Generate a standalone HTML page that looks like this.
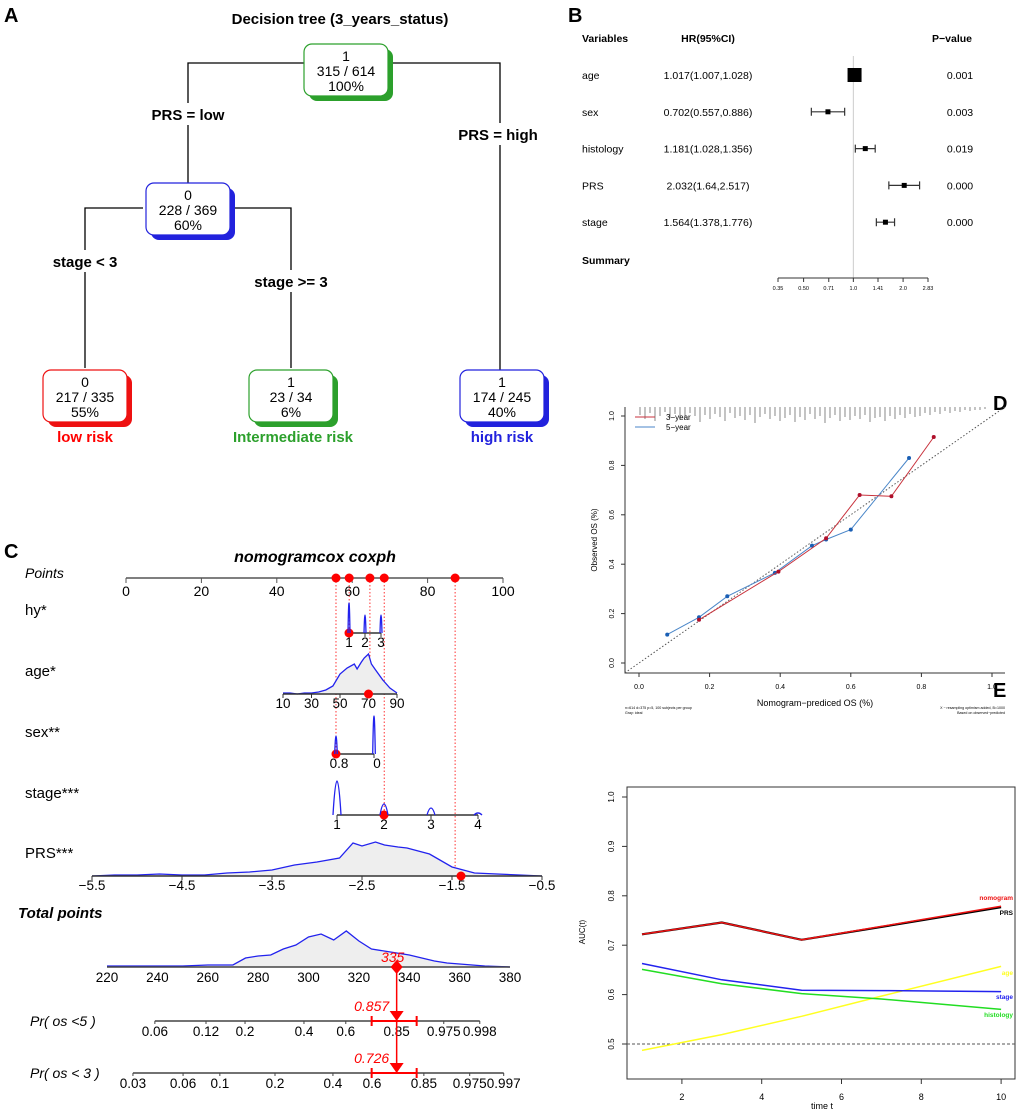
<!DOCTYPE html>
<html><head><meta charset="utf-8"><style>
body{margin:0;background:#fff}
svg{display:block;font-family:"Liberation Sans",Arial,sans-serif}
</style></head><body>
<svg id="fig" width="1020" height="1117" viewBox="0 0 1020 1117" xmlns="http://www.w3.org/2000/svg">
<g id="panelA">
<text x="4" y="22" font-size="20" font-weight="bold">A</text>
<text x="340" y="24" font-size="15" font-weight="bold" text-anchor="middle">Decision tree (3_years_status)</text>
<g stroke="#000" stroke-width="1.3" fill="none">
<path d="M188 188 V63 H305 M388 63 H500 V370"/>
<path d="M85 368 V208 H143 M232 208 H291 V368"/>
</g>
<g font-size="15" font-weight="bold" text-anchor="middle">
<rect x="140" y="103" width="98" height="22" fill="#fff"/>
<text x="188" y="120">PRS = low</text>
<rect x="445" y="123" width="108" height="22" fill="#fff"/>
<text x="498" y="140">PRS = high</text>
<rect x="36" y="250" width="98" height="22" fill="#fff"/>
<text x="85" y="267">stage &lt; 3</text>
<rect x="228" y="270" width="126" height="22" fill="#fff"/>
<text x="291" y="287">stage &gt;= 3</text>
</g>
<g id="nodes"></g>
<g font-size="15" font-weight="bold" text-anchor="middle">
<text x="85" y="442" fill="#f00">low risk</text>
<text x="293" y="442" fill="#2ca02c">Intermediate risk</text>
<text x="502" y="442" fill="#22d">high risk</text>
</g>
</g>
<g id="panelB">
<text x="568" y="22" font-size="20" font-weight="bold">B</text>
<g font-size="10.5" font-weight="bold">
<text x="582" y="42">Variables</text>
<text x="708" y="42" text-anchor="middle">HR(95%CI)</text>
<text x="952" y="42" text-anchor="middle">P−value</text>
<text x="582" y="264">Summary</text>
</g>
<g id="forest"></g>
</g>
<g id="panelC">
<text x="4" y="558" font-size="20" font-weight="bold">C</text>
<text x="315" y="562" font-size="16" font-weight="bold" font-style="italic" text-anchor="middle">nomogramcox coxph</text>
<g id="nomo"></g>
</g>
<g id="panelD">
<text x="993" y="410" font-size="20" font-weight="bold">D</text>
<g id="calib"></g>
</g>
<g id="panelE">
<text x="993" y="697" font-size="20" font-weight="bold">E</text>
<g id="auc"></g>
</g>
</svg>
<script>
const NS="http://www.w3.org/2000/svg";
function mk(parent,tag,attrs,txt){const e=document.createElementNS(NS,tag);for(const k in attrs)e.setAttribute(k,attrs[k]);if(txt!==undefined)e.textContent=txt;parent.appendChild(e);return e;}
function pathOf(pts){return pts.map((p,i)=>(i?"L":"M")+p[0].toFixed(1)+" "+p[1].toFixed(1)).join(" ");}

/* ---------- Panel A nodes ---------- */
const nodeClass=["1","0","0","1","1"];
const nodeCounts=["315 / 614","228 / 369","217 / 335","23 / 34","174 / 245"];
const nodePct=["100%","60%","55%","6%","40%"];
const nodeColor=["#2ca02c","#2222dd","#ee1111","#2ca02c","#2222dd"];
const nodeCx=[346,188,85,291,502],nodeCy=[70,209,396,396,396];
const nodesG=document.getElementById('nodes');
for(let i=0;i<nodeClass.length;i++){
  const g=mk(nodesG,'g',{});
  
  
  const x=nodeCx[i]-42,y=nodeCy[i]-26;
  mk(g,'rect',{x:x+5,y:y+5,width:84,height:52,rx:8,fill:nodeColor[i]});
  mk(g,'rect',{x:x,y:y,width:84,height:52,rx:8,fill:'#fff',stroke:nodeColor[i],'stroke-width':1.2});
  mk(g,'text',{x:nodeCx[i],y:nodeCy[i]-9,'font-size':14,'text-anchor':'middle'},nodeClass[i]);
  mk(g,'text',{x:nodeCx[i],y:nodeCy[i]+6,'font-size':14,'text-anchor':'middle'},nodeCounts[i]);
  mk(g,'text',{x:nodeCx[i],y:nodeCy[i]+21,'font-size':14,'text-anchor':'middle'},nodePct[i]);
}

/* ---------- Panel B forest ---------- */
const fVars=["age","sex","histology","PRS","stage"];
const fHRtext=["1.017(1.007,1.028)","0.702(0.557,0.886)","1.181(1.028,1.356)","2.032(1.64,2.517)","1.564(1.378,1.776)"];
const fHR=[1.017,0.702,1.181,2.032,1.564];
const fLo=[1.007,0.557,1.028,1.64,1.378];
const fHi=[1.028,0.886,1.356,2.517,1.776];
const fP=["0.001","0.003","0.019","0.000","0.000"];
const fBox=[14,5,5,5,5];
const fTicks=[0.35,0.50,0.71,1.0,1.41,2.0,2.83];
const fTickLbl=["0.35","0.50","0.71","1.0","1.41","2.0","2.83"];
const fx=v=>778+(Math.log(v)-Math.log(0.35))/(Math.log(2.83)-Math.log(0.35))*150;
const fg=document.getElementById('forest');
let fl=mk(fg,'line',{x1:fx(1),x2:fx(1),y1:56,y2:278,stroke:'#ccc','stroke-width':1});

for(let i=0;i<fVars.length;i++){
  const y=75+i*36.8;
  const g=mk(fg,'g',{});
  
  
  mk(g,'text',{x:582,y:y+4,'font-size':10.5},fVars[i]);
  mk(g,'text',{x:708,y:y+4,'font-size':10.5,'text-anchor':'middle'},fHRtext[i]);
  mk(g,'text',{x:960,y:y+4,'font-size':10.5,'text-anchor':'middle'},fP[i]);
  mk(g,'path',{d:`M${fx(fLo[i])} ${y-4}V${y+4}M${fx(fLo[i])} ${y}H${fx(fHi[i])}M${fx(fHi[i])} ${y-4}V${y+4}`,stroke:'#333','stroke-width':1.2,fill:'none'});
  mk(g,'rect',{x:fx(fHR[i])-fBox[i]/2,y:y-fBox[i]/2,width:fBox[i],height:fBox[i],fill:'#000'});
}
const fa=mk(fg,'g',{});

mk(fa,'line',{x1:fx(0.35),x2:fx(2.83),y1:278,y2:278,stroke:'#333'});
fTicks.forEach((t,i)=>{mk(fa,'line',{x1:fx(t),x2:fx(t),y1:278,y2:282,stroke:'#333'});mk(fa,'text',{x:fx(t),y:290,'font-size':5.5,'text-anchor':'middle'},fTickLbl[i]);});

/* ---------- Panel C nomogram ---------- */
const ng=document.getElementById('nomo');
const ptsTicks=[0,20,40,60,80,100];
const px=p=>126+p*3.77;
let g0=mk(ng,'g',{});
mk(g0,'text',{x:25,y:578,'font-size':14,'font-style':'italic'},'Points');
mk(g0,'line',{x1:px(0),x2:px(100),y1:578,y2:578,stroke:'#555','stroke-width':1.5});
ptsTicks.forEach(t=>{mk(g0,'line',{x1:px(t),x2:px(t),y1:578,y2:583,stroke:'#555'});mk(g0,'text',{x:px(t),y:596,'font-size':14,'text-anchor':'middle'},String(t));});
const selPoints=[55.7,59.2,64.7,68.5,87.3];
const selEnd=[754,633,694,815,876];
selPoints.forEach((p,i)=>{const l=mk(ng,'line',{x1:px(p),x2:px(p),y1:578,y2:selEnd[i],stroke:'#f33','stroke-dasharray':'1.5,2','stroke-width':1});
 const c=mk(ng,'circle',{cx:px(p),cy:578,r:4.5,fill:'#f00'});});

function row(name,label,ly,ay,x0,x1,v0,v1,ticks,tickLbl,dens,densX,sel,lblXoff){
  const g=mk(ng,'g',{});
  
  
  const sx=v=>x0+(v-v0)/(v1-v0)*(x1-x0);
  mk(g,'text',{x:25,y:ly,'font-size':15},label);
  if(densX){const pts=densX.map((v,i)=>[sx(v),ay-dens[i]]);
    mk(g,'path',{d:pathOf(pts)+`L${sx(densX[densX.length-1])} ${ay}L${sx(densX[0])} ${ay}Z`,fill:'#eee',stroke:'none'});
    mk(g,'path',{d:pathOf(pts),fill:'none',stroke:'#22e','stroke-width':1.3});}
  mk(g,'line',{x1:x0,x2:x1,y1:ay,y2:ay,stroke:'#333','stroke-width':1.5});
  ticks.forEach((t,i)=>{mk(g,'line',{x1:sx(t),x2:sx(t),y1:ay,y2:ay+4,stroke:'#333'});mk(g,'text',{x:sx(t)+(lblXoff||0),y:ay+14,'font-size':13.5,'text-anchor':'middle'},tickLbl[i]);});
  if(sel!==null){const c=mk(g,'circle',{cx:sx(sel),cy:ay,r:4.5,fill:'#f00'});}
  return {g,sx};
}
function spikes(r,pos,h,ay,w){pos.forEach((p,i)=>{const x=r.sx(p);mk(r.g,'path',{d:`M${x-w} ${ay}Q${x} ${ay-2*h[i]} ${x+w} ${ay}`,fill:'none',stroke:'#22e','stroke-width':1.3});});}
const hyTicks=[1,2,3],hySpikeH=[30,18,18];
let r=row('hy','hy*',615,633,349,381,1,3,hyTicks,["1","2","3"],null,null,1);
spikes(r,hyTicks,hySpikeH,633,1);
const ageX=[10,15,20,25,30,35,40,45,50,55,60,62,65,67,70,72,75,80,85,90];
const ageD=[1,1,0,1,1,2,4,8,20,26,30,25,32,36,40,30,24,14,6,1];
row('age','age*',676,694,283,397,10,90,[10,30,50,70,90],["10","30","50","70","90"],ageD,ageX,70);
const sexTicks=[0.8,0],sexSpikeH=[18,38];
r=row('sex','sex**',737,754,336,374,0.8,0,sexTicks,["0.8","0"],null,null,0.8,3);
spikes(r,sexTicks,sexSpikeH,754,1.3);
const stageTicks=[1,2,3,4],stageSpikeH=[34,11,7,2];
r=row('stage','stage***',798,815,337,478,1,4,stageTicks,["1","2","3","4"],null,null,2);
spikes(r,stageTicks,stageSpikeH,815,4);
const prsX=[-5.5,-5.25,-5,-4.75,-4.5,-4.25,-4,-3.75,-3.5,-3.25,-3,-2.75,-2.6,-2.5,-2.35,-2.25,-2.1,-2,-1.75,-1.5,-1.25,-1,-0.75,-0.5];
const prsD=[0,1,1,2,1,1,3,4,6,11,14,18,33,30,34,31,29,28,22,9,3,2,1,0];
row('prs','PRS***',858,876,92,542,-5.5,-0.5,[-5.5,-4.5,-3.5,-2.5,-1.5,-0.5],["−5.5","−4.5","−3.5","−2.5","−1.5","−0.5"],prsD,prsX,-1.4);

const totX=[220,230,240,250,260,270,275,280,285,290,295,300,305,310,315,320,325,330,335,340,345,350,355,360,365,370,380];
const totD=[1,1,1,1,2,2,9,11,12,18,22,30,33,27,36,26,18,16,14,12,9,6,4,3,2,1,0];
const totPts=335;
const tx=v=>107+(v-220)/160*403;
let tg=mk(ng,'g',{});
mk(tg,'text',{x:18,y:918,'font-size':15,'font-weight':'bold','font-style':'italic'},'Total points');
const tpts=totX.map((v,i)=>[tx(v),967-totD[i]]);
mk(tg,'path',{d:pathOf(tpts)+`L${tx(380)} 967L${tx(220)} 967Z`,fill:'#eee'});
mk(tg,'path',{d:pathOf(tpts),fill:'none',stroke:'#22e','stroke-width':1.3});
mk(tg,'line',{x1:tx(220),x2:tx(380),y1:967,y2:967,stroke:'#444','stroke-width':1.5});
[220,240,260,280,300,320,340,360,380].forEach(t=>mk(tg,'text',{x:tx(t),y:982,'font-size':13.5,'text-anchor':'middle'},String(t)));
const pr5Lbl=["0.06","0.12","0.2","0.4","0.6","0.85","0.975","0.998"];
const pr5Pts=[239,259.3,274.8,298.2,314.8,335,353.7,368];
const pr3Lbl=["0.03","0.06","0.1","0.2","0.4","0.6","0.85","0.975","0.997"];
const pr3Pts=[230.3,250.2,264.8,286.7,309.7,325.2,345.8,364,377.5];
function prAxis(name,label,y,lbl,pts,val){
  const g=mk(ng,'g',{});
  
  
  mk(g,'text',{x:30,y:y+5,'font-size':14,'font-style':'italic'},label);
  mk(g,'line',{x1:tx(pts[0]),x2:tx(pts[pts.length-1]),y1:y,y2:y,stroke:'#444','stroke-width':1.5});
  pts.forEach((p,i)=>{mk(g,'line',{x1:tx(p),x2:tx(p),y1:y,y2:y+3,stroke:'#444'});mk(g,'text',{x:tx(p),y:y+15,'font-size':13.5,'text-anchor':'middle'},lbl[i]);});
  const c=tx(totPts);
  mk(g,'path',{d:`M${c-25} ${y-5}V${y+5}M${c-25} ${y}H${c+20}M${c+20} ${y-5}V${y+5}`,stroke:'#f00','stroke-width':2,fill:'none'});
  mk(g,'path',{d:`M${c-7} ${y-10}L${c+7} ${y-10}L${c} ${y}Z`,fill:'#f00'});
  mk(g,'text',{x:c-25,y:y-10,'font-size':14,'font-style':'italic',fill:'#f00','text-anchor':'middle'},val);
}
prAxis('pr-os-5-axis','Pr( os <5 )',1021,pr5Lbl,pr5Pts,'0.857');
prAxis('pr-os-3-axis','Pr( os < 3 )',1073,pr3Lbl,pr3Pts,'0.726');
let rl=mk(ng,'line',{x1:tx(totPts),x2:tx(totPts),y1:967,y2:1073,stroke:'#f00','stroke-width':1.5});

let dm=mk(ng,'path',{d:`M${tx(totPts)} 960L${tx(totPts)+6} 967L${tx(totPts)} 974L${tx(totPts)-6} 967Z`,fill:'#f00'});

let dt=mk(ng,'text',{x:tx(totPts)-4,y:962,'font-size':14,'font-style':'italic',fill:'#f00','text-anchor':'middle'},String(totPts));


/* ---------- Panel D calibration ---------- */
const cg=document.getElementById('calib');
const dx=v=>639+v*353,dy=v=>663-v*247;
const red3x=[0.17,0.395,0.53,0.625,0.715,0.835];
const red3y=[0.175,0.37,0.505,0.68,0.675,0.915];
const blu5x=[0.08,0.17,0.25,0.385,0.49,0.53,0.6,0.765];
const blu5y=[0.115,0.185,0.27,0.365,0.475,0.50,0.54,0.83];
const rugLen=[8,12,6,14,9,5,11,7,13,10,6,9,15,8,12,7,10,14,6,11,9,13,8,16,10,7,12,9,14,11,8,15,10,13,7,12,9,16,11,8,14,10,13,9,12,8,15,11,10,14,9,12,8,11,7,10,9,6,8,5,7,4,6,4,5,3,4,3,3,2];
const dAx=mk(cg,'g',{});
mk(dAx,'path',{d:'M625 407V673H1005',fill:'none',stroke:'#333','stroke-width':1});
[0,0.2,0.4,0.6,0.8,1.0].forEach(t=>{
  mk(dAx,'line',{x1:dx(t),x2:dx(t),y1:673,y2:677,stroke:'#333'});
  mk(dAx,'text',{x:dx(t),y:689,'font-size':7,'text-anchor':'middle'},t.toFixed(1));
  mk(dAx,'line',{x1:621,x2:625,y1:dy(t),y2:dy(t),stroke:'#333'});
  mk(dAx,'text',{x:614,y:dy(t),'font-size':7,'text-anchor':'middle',transform:`rotate(-90 614 ${dy(t)})`},t.toFixed(1));
});
mk(dAx,'text',{x:815,y:706,'font-size':9,'text-anchor':'middle'},'Nomogram−prediced OS (%)');
mk(dAx,'text',{x:597,y:540,'font-size':8,'text-anchor':'middle',transform:'rotate(-90 597 540)'},'Observed OS (%)');
mk(dAx,'text',{x:625,y:709,'font-size':3.6},'n=614 d=375 p=5, 100 subjects per group');
mk(dAx,'text',{x:625,y:714,'font-size':3.6},'Gray: ideal');
mk(dAx,'text',{x:1005,y:709,'font-size':3.6,'text-anchor':'end'},'X − resampling optimism added, B=1000');
mk(dAx,'text',{x:1005,y:714,'font-size':3.6,'text-anchor':'end'},'Based on observed−predicted');
let idl=mk(cg,'line',{x1:dx(-0.04),y1:dy(-0.04),x2:dx(1.04),y2:dy(1.04),stroke:'#555','stroke-dasharray':'1.5,2'});

const rug=mk(cg,'g',{});
rugLen.forEach((L,i)=>mk(rug,'line',{x1:640+i*5,x2:640+i*5,y1:407,y2:407+L,stroke:'#555','stroke-width':0.7}));
function calLine(name,xs,ys,col,mcol){
  const g=mk(cg,'g',{});
  
  
  mk(g,'path',{d:pathOf(xs.map((v,i)=>[dx(v),dy(ys[i])])),fill:'none',stroke:col,'stroke-width':1});
  xs.forEach((v,i)=>{mk(g,'text',{x:dx(v),y:dy(ys[i])+2.5,'font-size':7,fill:'#55f','text-anchor':'middle'},'×');mk(g,'circle',{cx:dx(v),cy:dy(ys[i]),r:2,fill:mcol});});
}
calLine('line-5-year',blu5x,blu5y,'#4a86c8','#1a5fb4');
calLine('line-3-year',red3x,red3y,'#c8323c','#b0102a');
const dl=mk(cg,'g',{});
mk(dl,'line',{x1:635,x2:655,y1:417,y2:417,stroke:'#c8323c'});mk(dl,'text',{x:666,y:420,'font-size':8},'3−year');
mk(dl,'line',{x1:635,x2:655,y1:427,y2:427,stroke:'#4a86c8'});mk(dl,'text',{x:666,y:430,'font-size':8},'5−year');

/* ---------- Panel E AUC ---------- */
const ag=document.getElementById('auc');
const aucTimes=[1,3,5,7,10];
const aucNomogram=[0.722,0.746,0.711,0.738,0.779];
const aucPRS=[0.722,0.746,0.711,0.737,0.777];
const aucStage=[0.663,0.630,0.609,0.608,0.606];
const aucHistology=[0.651,0.622,0.602,0.591,0.570];
const aucAge=[0.487,0.519,0.556,0.597,0.657];
const ex=t=>642+(t-1)*39.9,ey=v=>1044-(v-0.5)*494;
const eAx=mk(ag,'g',{});
mk(eAx,'rect',{x:627,y:787,width:388,height:292,fill:'none',stroke:'#333'});
[2,4,6,8,10].forEach(t=>{mk(eAx,'line',{x1:ex(t),x2:ex(t),y1:1079,y2:1084,stroke:'#333'});mk(eAx,'text',{x:ex(t),y:1100,'font-size':9,'text-anchor':'middle'},String(t));});
[0.5,0.6,0.7,0.8,0.9,1.0].forEach(t=>{mk(eAx,'line',{x1:622,x2:627,y1:ey(t),y2:ey(t),stroke:'#333'});mk(eAx,'text',{x:614,y:ey(t),'font-size':8,'text-anchor':'middle',transform:`rotate(-90 614 ${ey(t)})`},t.toFixed(1));});
mk(eAx,'text',{x:822,y:1109,'font-size':9,'text-anchor':'middle'},'time t');
mk(eAx,'text',{x:585,y:932,'font-size':8,'text-anchor':'middle',transform:'rotate(-90 585 932)'},'AUC(t)');
let ref=mk(ag,'line',{x1:627,x2:1015,y1:ey(0.5),y2:ey(0.5),stroke:'#555','stroke-dasharray':'3,2'});

function aucLine(name,vals,col,w,lbl,ly){
  const g=mk(ag,'g',{});
  
  
  mk(g,'path',{d:pathOf(aucTimes.map((t,i)=>[ex(t),ey(vals[i])])),fill:'none',stroke:col,'stroke-width':w});
  mk(g,'text',{x:1013,y:ly,'font-size':6.5,'font-weight':'bold',fill:col,'text-anchor':'end'},lbl);
}
aucLine('auc-age',aucAge,'#ffff22',1.5,'age',975);
aucLine('auc-histology',aucHistology,'#22dd22',1.5,'histology',1017);
aucLine('auc-stage',aucStage,'#2222ee',1.5,'stage',999);
aucLine('auc-prs',aucPRS,'#000',2.2,'PRS',915);
aucLine('auc-nomogram',aucNomogram,'#ee1111',1.5,'nomogram',900);
</script>
</body></html>
